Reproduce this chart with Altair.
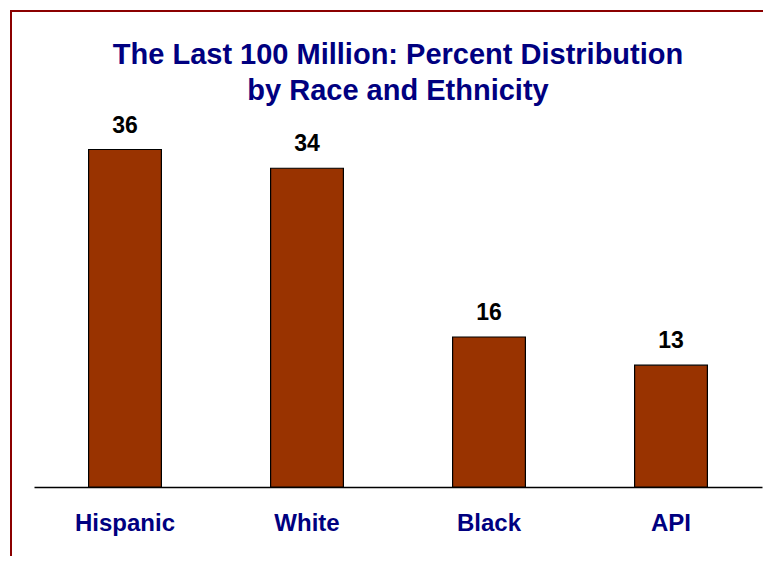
import altair as alt
import pandas as pd

categories = ["Hispanic", "White", "Black", "API"]
percents = [36, 34, 16, 13]

df = pd.DataFrame({"group": categories, "pct": percents})

W, H = 728, 375
PAD_L, PAD_T = 26, 104
TOTAL_W, TOTAL_H = 755, 548

base = alt.Chart(df)

x_enc = alt.X(
    "group:N",
    sort=categories,
    scale=alt.Scale(paddingInner=0.6, paddingOuter=0.3),
    axis=alt.Axis(
        title=None,
        ticks=False,
        tickSize=0,
        domain=True,
        domainColor="#000000",
        domainWidth=1.5,
        labelAngle=0,
        labelFont="Liberation Sans",
        labelFontWeight="bold",
        labelFontSize=24,
        labelColor="#000080",
        labelPadding=24,
        labelBaseline="top",
    ),
)
y_enc = alt.Y("pct:Q", scale=alt.Scale(domain=[0, 40], nice=False), axis=None)

bars = base.mark_bar(color="#993300", stroke="#000000", strokeWidth=1.2).encode(
    x=x_enc, y=y_enc
)

labels = base.mark_text(
    dy=-17,
    baseline="alphabetic",
    font="Liberation Sans",
    fontWeight="bold",
    fontSize=23,
    color="#000000",
).encode(x=alt.X("group:N", sort=categories), y="pct:Q", text="pct:Q")

frame = alt.Chart(pd.DataFrame({"k": [0]})).mark_rect(
    fill=None, stroke="#8B0000", strokeWidth=2
).encode(
    x=alt.value(11 - 8 - PAD_L),
    y=alt.value(11 - 8 - PAD_T),
    x2=alt.value(W + 200),
    y2=alt.value(H + 300),
)

chart = (
    alt.layer(frame, bars, labels)
    .properties(
        width=W,
        height=H,
        background="white",
        padding={"left": PAD_L, "top": PAD_T, "right": TOTAL_W - PAD_L - W, "bottom": TOTAL_H - PAD_T - H},
        autosize=alt.AutoSizeParams(type="none"),
        title=alt.TitleParams(
            text=["The Last 100 Million: Percent Distribution", "by Race and Ethnicity"],
            font="Liberation Sans",
            fontWeight="bold",
            fontSize=29,
            color="#000080",
            lineHeight=36,
            anchor="middle",
            offset=-96,
        ),
    )
    .configure_view(strokeWidth=0, stroke="transparent")
)

chart.save("out.html", embed_options={"renderer": "svg", "actions": False})
